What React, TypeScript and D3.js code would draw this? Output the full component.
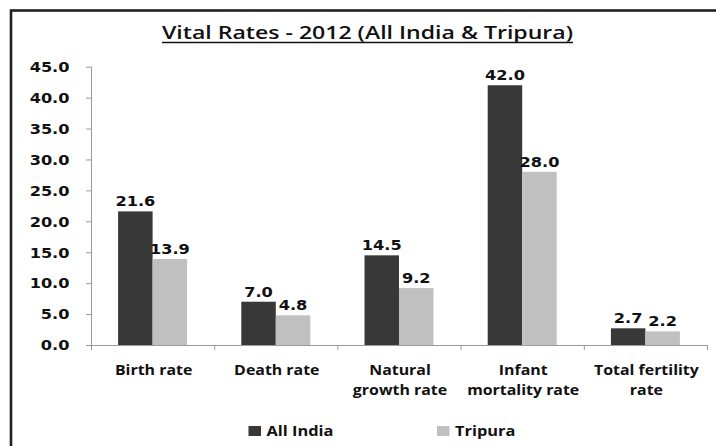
import React from "react";
import * as d3 from "d3";

const categories: string[][] = [
  ["Birth rate"],
  ["Death rate"],
  ["Natural", "growth rate"],
  ["Infant", "mortality rate"],
  ["Total fertility", "rate"],
];
const seriesNames = ["All India", "Tripura"];
const allIndia = [21.6, 7.0, 14.5, 42.0, 2.7];
const tripura = [13.9, 4.8, 9.2, 28.0, 2.2];
const yTicks = [0, 5, 10, 15, 20, 25, 30, 35, 40, 45];
const title = "Vital Rates - 2012 (All India & Tripura)";

const W = 716;
const H = 446;
const colors = ["#383838", "#c0c0c0"];
const NUM_FONT = "'DejaVu Sans', Verdana, sans-serif";
const TXT_FONT = "'Open Sans', 'Noto Sans', sans-serif";

export default function App() {
  const left = 91;
  const right = 707;
  const top = 66.7;
  const bottom = 345;
  const y = d3.scaleLinear().domain([0, 45]).range([bottom, top]);
  const idx = categories.map((_, i) => String(i));
  const x0 = d3.scaleBand<string>().domain(idx).range([left, right]).paddingInner(0.44).paddingOuter(0.22);
  const x1 = d3.scaleBand<string>().domain(["0", "1"]).range([0, x0.bandwidth()]);
  const series = [allIndia, tripura];
  const bandW = (right - left) / categories.length;
  const axisColor = "#9a9a9a";
  const sx = 1.17;

  return (
    <svg width={W} height={H} style={{ position: "absolute", left: 0, top: 0, background: "#fff" }}>
      <rect x={0} y={0} width={W} height={H} fill="#fff" />
      <rect x={11} y={10.5} width={900} height={700} fill="none" stroke="#222" strokeWidth={2.6} />
      <text
        x={162}
        y={39}
        textLength={411}
        lengthAdjust="spacingAndGlyphs"
        fontFamily={TXT_FONT}
        fontWeight={600}
        fontSize={17.5}
        fill="#111"
      >
        {title}
      </text>
      <line x1={162} x2={573} y1={42.5} y2={42.5} stroke="#111" strokeWidth={1.4} />

      {/* y axis */}
      <line x1={left + 0.5} x2={left + 0.5} y1={top} y2={bottom + 5} stroke={axisColor} strokeWidth={1} />
      {yTicks.map((t) => (
        <g key={t}>
          <line x1={left - 5} x2={left} y1={y(t) + 0.5} y2={y(t) + 0.5} stroke={axisColor} />
          <text
            transform={`translate(69.5,${y(t) + 5.3}) scale(1.1,1)`}
            textAnchor="end"
            fontFamily={NUM_FONT}
            fontWeight="bold"
            fontSize={14.7}
            fill="#111"
          >
            {d3.format(".1f")(t)}
          </text>
        </g>
      ))}

      {/* x axis */}
      <line x1={left} x2={right} y1={bottom + 0.5} y2={bottom + 0.5} stroke={axisColor} />
      {d3.range(categories.length + 1).map((i) => (
        <line
          key={i}
          x1={left + i * bandW + 0.5}
          x2={left + i * bandW + 0.5}
          y1={bottom}
          y2={bottom + 5}
          stroke={axisColor}
        />
      ))}

      {/* bars */}
      {series.map((vals, s) =>
        vals.map((v, i) => {
          const bx = (x0(String(i)) as number) + (x1(String(s)) as number);
          const bw = x1.bandwidth();
          return (
            <g key={`${s}-${i}`}>
              <rect x={bx} y={y(v)} width={bw} height={bottom - y(v)} fill={colors[s]} />
              <text
                transform={`translate(${bx + bw / 2},${y(v) - 5}) scale(1.1,1)`}
                textAnchor="middle"
                fontFamily={NUM_FONT}
                fontWeight="bold"
                fontSize={14.7}
                fill="#111"
              >
                {d3.format(".1f")(v)}
              </text>
            </g>
          );
        })
      )}

      {/* category labels */}
      {categories.map((lines, i) =>
        lines.map((ln, j) => (
          <text
            key={`${i}-${j}`}
            transform={`translate(${left + (i + 0.5) * bandW + 1},${375 + j * 20}) scale(${sx},1)`}
            textAnchor="middle"
            fontFamily={TXT_FONT}
            fontWeight="bold"
            fontSize={13.6}
            fill="#111"
          >
            {ln}
          </text>
        ))
      )}

      {/* legend */}
      {seriesNames.map((name, s) => {
        const lx = s === 0 ? 248.5 : 437;
        return (
          <g key={name}>
            <rect x={lx} y={426} width={12.5} height={10} fill={colors[s]} />
            <text
              transform={`translate(${lx + 18},436) scale(${sx},1)`}
              fontFamily={TXT_FONT}
              fontWeight="bold"
              fontSize={14}
              fill="#111"
            >
              {name}
            </text>
          </g>
        );
      })}
    </svg>
  );
}
